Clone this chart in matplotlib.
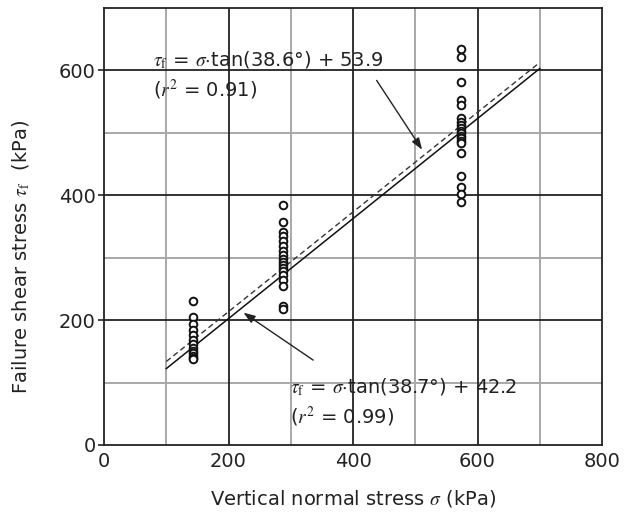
import matplotlib
matplotlib.use("Agg")
import matplotlib.pyplot as plt
import numpy as np

plt.rcParams["font.family"] = ["DejaVu Sans"]
plt.rcParams["mathtext.fontset"] = "stix"

# Normal stress levels of the three test series (kPa)
sigma_levels = [143, 287, 573]

# Measured failure shear stress at each normal stress level (kPa)
tau_series_1 = [231, 205, 194, 185, 176, 168, 161, 156, 151, 147, 143, 140, 137]
tau_series_2 = [385, 358, 341, 334, 326, 318, 311, 304, 298, 293, 288, 283,
                278, 273, 265, 254, 222, 218]
tau_series_3 = [635, 621, 581, 552, 545, 524, 518, 513, 508, 503, 499, 495,
                491, 487, 483, 468, 431, 414, 402, 390]

# Linear fits: friction angle (deg), intercept (kPa), r^2
fit_all = (38.6, 53.9, 0.91)
fit_mean = (38.7, 42.2, 0.99)
fit_range = [100, 700]

fig = plt.figure(figsize=(6.24, 5.23), dpi=100)
ax = fig.add_axes([104 / 624, 78 / 523, 498 / 624, 437 / 523])

# grid: light minor lines every 100, dark major lines every 200
for v in [100, 300, 500, 700]:
    ax.axvline(v, color="#a8a8a8", lw=1.4, zorder=0)
for v in [100, 300, 500]:
    ax.axhline(v, color="#a8a8a8", lw=1.4, zorder=0)
for v in [200, 400, 600]:
    ax.axvline(v, color="#222222", lw=1.3, zorder=0.5)
    ax.axhline(v, color="#222222", lw=1.3, zorder=0.5)

for s, taus in zip(sigma_levels, [tau_series_1, tau_series_2, tau_series_3]):
    ax.plot([s] * len(taus), taus, linestyle="none", marker="o", ms=5.5,
            mfc="white", mec="#111111", mew=1.4, zorder=3)

xs = np.array(fit_range, dtype=float)
ax.plot(xs, xs * np.tan(np.radians(fit_mean[0])) + fit_mean[1],
        color="#111111", lw=1.1, zorder=2)
ax.plot(xs, xs * np.tan(np.radians(fit_all[0])) + fit_all[1],
        color="#333333", lw=1.0, ls=(0, (4, 2.5)), zorder=2)

ax.set_xlim(0, 800)
ax.set_ylim(0, 700)
ax.set_xticks([0, 200, 400, 600, 800])
ax.set_yticks([0, 200, 400, 600])
ax.tick_params(axis="both", labelsize=14, colors="#222222", length=4, width=1.2)
ax.tick_params(axis="x", length=0, pad=5)
ax.tick_params(axis="y", pad=2)
for sp in ax.spines.values():
    sp.set_linewidth(1.3)
    sp.set_color("#222222")

ax.set_xlabel(r"Vertical normal stress $\sigma$ (kPa)", fontsize=14,
              color="#222222", labelpad=12)
ax.set_ylabel(r"Failure shear stress $\tau_{\mathrm{f}}$  (kPa)", fontsize=14,
              color="#222222")
ax.yaxis.set_label_coords(-0.145, 0.43)

txt_kw = dict(fontsize=14, color="#222222", zorder=4)
ax.text(79, 616, r"$\tau_{\mathrm{f}}$ = $\sigma$$\cdot$tan(%.1f°) + %.1f" % fit_all[:2],
        va="center", ha="left", **txt_kw)
ax.text(79, 568, r"($r^{2}$ = %.2f)" % fit_all[2], va="center", ha="left", **txt_kw)
ax.text(298, 93, r"$\tau_{\mathrm{f}}$ = $\sigma$$\cdot$tan(%.1f°) + %.1f" % fit_mean[:2],
        va="center", ha="left", **txt_kw)
ax.text(298, 45, r"($r^{2}$ = %.2f)" % fit_mean[2], va="center", ha="left", **txt_kw)

arrow_kw = dict(arrowstyle="-|>,head_length=0.7,head_width=0.25", color="#222222",
                lw=1.0, shrinkA=0, shrinkB=0)
ax.annotate("", xy=(511, 473), xytext=(438, 584), arrowprops=arrow_kw, zorder=4)
ax.annotate("", xy=(224, 212), xytext=(336, 136), arrowprops=arrow_kw, zorder=4)

fig.savefig("out.png", dpi=100)
